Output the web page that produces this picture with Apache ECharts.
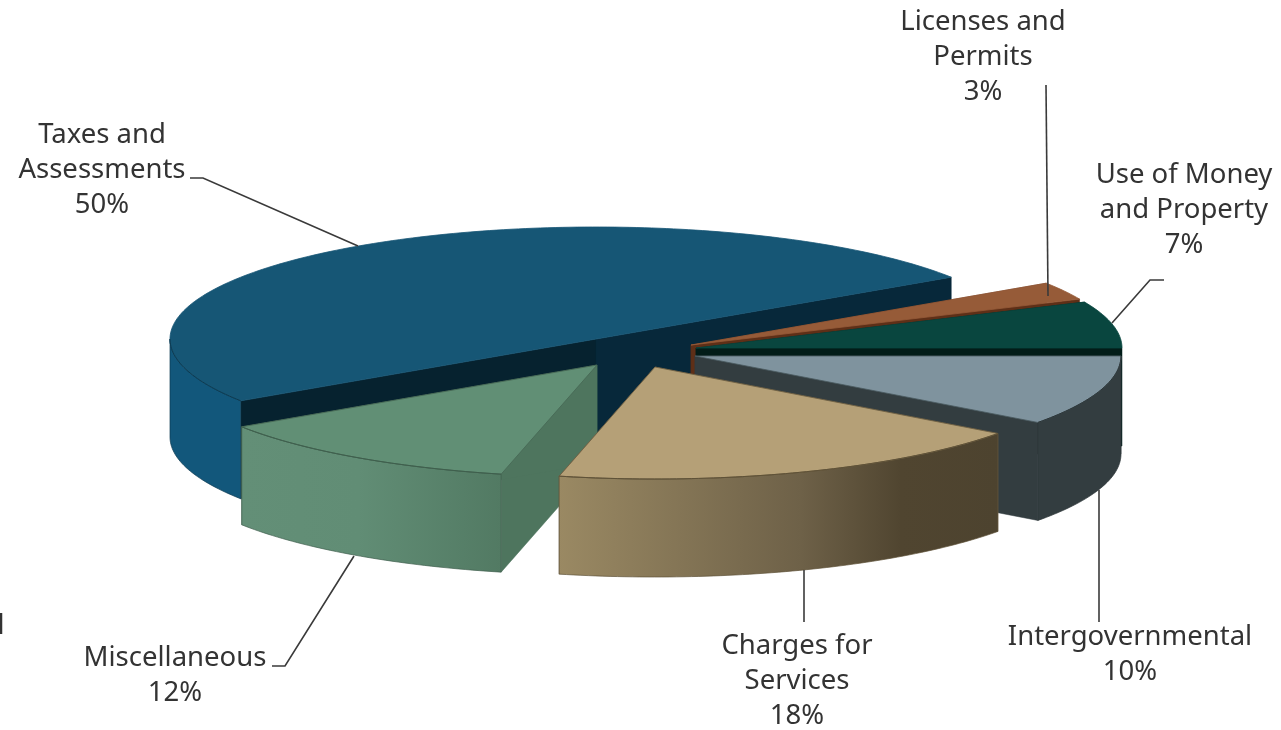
<!DOCTYPE html>
<html>
<head>
<meta charset="utf-8">
<style>html,body{margin:0;padding:0;background:#fff}#chart{width:1281px;height:730px}</style>
<script src="https://cdn.jsdelivr.net/npm/echarts@6/dist/echarts.min.js"></script>
</head>
<body>
<div id="chart"></div>
<script>
// ---- data ----
const categories = ['Taxes and\nAssessments', 'Miscellaneous', 'Charges for\nServices', 'Intergovernmental', 'Use of Money\nand Property', 'Licenses and\nPermits'];
const shares = [50, 12, 18, 10, 7, 3];

// ---- layout, kept apart from the data ----
const startAngle = 33.5;            // degrees, counter-clockwise on the ellipse
const angleTrim = [0, 0.3, 1.8, 0.4, -1, -1.5]; // foreshortening seen in the source's 3D projection
const rx = 426, ry = 112, depth = 98;
const centres = [[596,339],[597,365],[655,367],[695,356],[696,348],[691,345]];
const labelAnchors = [[102,135],[175,658],[797,646],[1130,637],[1184,175],[983,22]];
const leaders = [
  [[190,178],[203,178],[358,246]],
  [[272,666],[285,666],[354,556]],
  [[804,570],[804,622]],
  [[1099,490],[1099,622]],
  [[1164,280],[1150,280],[1112,323]],
  [[1046,85],[1048,296]]
];
const topColors   = ['#165675','#618f75','#b5a077','#7f939e','#09463f','#965b38'];
const topStroke   = ['#165675','#456653','#6b5d41','#4a5a60','#09463f','#965b38'];
const rimColors   = ['#0d3a50','#3f5f4d','#5f5238','#2c3538','#09463f','#5e2f17'];
const sideStops   = [
  [[0,'#12577b'],[1,'#12577b']],
  [[0,'#638f77'],[0.45,'#618d75'],[1,'#527a63']],
  [[0,'#9a8963'],[0.55,'#6e6148'],[0.78,'#504530'],[1,'#4d432f']],
  [[0,'#333d40'],[1,'#333d40']],
  [[0,'#09463f'],[1,'#09463f']],
  [[0,'#5e2f17'],[1,'#5e2f17']]
];
const startWall   = ['#07283a','#4e755e','#6f6348','#333d40','#021c18','#5e2f17'];
const endWall     = ['#06222f','#4e755e','#6f6348','#333d40','#021c18','#5e2f17'];
const drawOrder = [0, 5, 4, 3, 1, 2];
const textColor = '#333333';
const fontFamily = '"Noto Sans", sans-serif';
const fontSize = 27.5, lineGap = 35;

// angular extents computed from the shares
const sweeps = shares.map((v, i) => v * 3.6 + angleTrim[i]);
const starts = [];
sweeps.reduce((acc, s, i) => { starts[i] = acc; return acc + s; }, startAngle);

function rimPoint(c, deg, dy) {
  const t = deg * Math.PI / 180;
  return [c[0] + rx * Math.cos(t), c[1] - ry * Math.sin(t) + (dy || 0)];
}
function arc(c, a0, a1, dy) {
  const pts = [], n = Math.max(2, Math.ceil(Math.abs(a1 - a0)));
  for (let k = 0; k <= n; k++) pts.push(rimPoint(c, a0 + (a1 - a0) * k / n, dy));
  return pts;
}
function poly(points, fill, stroke, lw) {
  return { type: 'polygon', silent: true, shape: { points }, style: { fill, stroke: stroke || fill, lineWidth: lw === undefined ? 1 : lw } };
}
function renderSlice(params, api) {
  const i = api.value(0);
  const c = centres[i];
  const a0 = starts[i], a1 = starts[i] + sweeps[i];
  const kids = [];
  const wall = (deg, col) => {
    const p = rimPoint(c, deg);
    kids.push(poly([c, p, [p[0], p[1] + depth], [c[0], c[1] + depth]], col, col, 0.5));
  };
  wall(a1, endWall[i]);
  wall(a0, startWall[i]);
  // outer rim, only the part turned to the viewer
  const f0 = Math.max(a0, 180), f1 = Math.min(a1, 360);
  if (f1 > f0) {
    const upper = arc(c, f0, f1, 0), lower = arc(c, f1, f0, depth);
    kids.push(poly(upper.concat(lower), {
      type: 'linear', x: 0, y: 0, x2: 1, y2: 0,
      colorStops: sideStops[i].map(s => ({ offset: s[0], color: s[1] }))
    }, rimColors[i], 0.7));
  }
  // top face
  kids.push(poly([c].concat(arc(c, a0, a1, 0)), topColors[i], topStroke[i], 0.8));
  if (f1 > f0) {
    kids.push({ type: 'polyline', silent: true, shape: { points: arc(c, f0, f1, 0) }, style: { fill: 'none', stroke: rimColors[i], lineWidth: 1 } });
  }
  return { type: 'group', children: kids, silent: true };
}
function renderAnnotation(params, api) {
  const i = api.value(0);
  const a = labelAnchors[i];
  const lines = categories[i].split('\n').concat([api.value(1) + '%']);
  const kids = [{ type: 'polyline', silent: true, shape: { points: leaders[i] }, style: { fill: 'none', stroke: '#3a3a3a', lineWidth: 1.6 } }];
  lines.forEach((s, k) => kids.push({
    type: 'text', silent: true,
    style: { text: s, x: a[0], y: a[1] + k * lineGap, align: 'center', verticalAlign: 'middle', fill: textColor, font: fontSize + 'px ' + fontFamily }
  }));
  return { type: 'group', children: kids };
}
const rows = drawOrder.map(i => ({ name: categories[i].replace('\n', ' '), value: [i, shares[i]] }));
const chart = echarts.init(document.getElementById('chart'), null, { renderer: 'canvas' });
chart.setOption({
  animation: false,
  backgroundColor: '#ffffff',
  graphic: [{ type: 'text', silent: true, x: 1, y: 626, style: { text: 'l', align: 'center', verticalAlign: 'middle', fill: textColor, font: fontSize + 'px ' + fontFamily } }],
  series: [
    { type: 'custom', coordinateSystem: 'none', renderItem: renderSlice, data: rows, encode: { value: [1] }, z: 1 },
    { type: 'custom', coordinateSystem: 'none', renderItem: renderAnnotation, data: rows, encode: { value: [1] }, z: 2 }
  ]
});
</script>
</body>
</html>
